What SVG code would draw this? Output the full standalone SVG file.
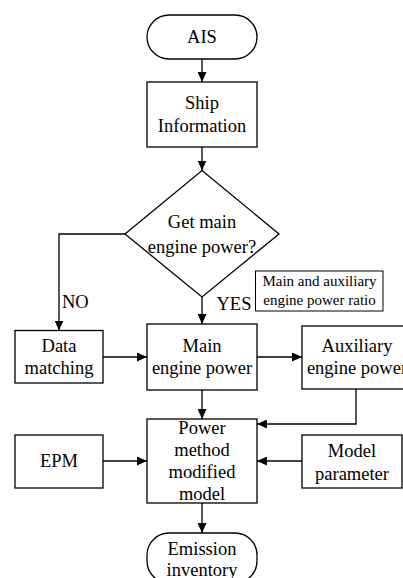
<svg xmlns="http://www.w3.org/2000/svg" width="403" height="578" viewBox="0 0 403 578">
<style>
.s{fill:#fff;stroke:#000;stroke-width:1.3}
text{font-family:'Liberation Serif','Times New Roman',Tinos,Times,'DejaVu Serif',serif;fill:#000;text-anchor:middle}
.t{font-size:18.5px}
.sm{font-size:15px}
.c{fill:none;stroke:#000;stroke-width:1.3;marker-end:url(#ah)}
</style>
<defs>
<marker id="ah" markerUnits="userSpaceOnUse" markerWidth="10" markerHeight="9" refX="10" refY="4.5" orient="auto">
<path d="M0,0 L10,4.5 L0,9 z" fill="#000"/>
</marker>
</defs>
<rect width="403" height="578" fill="#fff"/>
<g id="connectors">
<path class="c" d="M202,59 V82"/>
<path class="c" d="M202,147 V170.5"/>
<path class="c" d="M125,234 H59 V330.5"/>
<path class="c" d="M202,297 V324"/>
<path class="c" d="M103,357 H147"/>
<path class="c" d="M257,357 H302"/>
<path class="c" d="M202,390 V419"/>
<path class="c" d="M356,389 V424 H257"/>
<path class="c" d="M103,461 H147"/>
<path class="c" d="M302,461 H257"/>
<path class="c" d="M202,503 V533"/>
</g>
<g font-family="Liberation Serif, Times New Roman, serif">
<g id="ais">
<rect class="s" x="147" y="15" width="110" height="44" rx="22"/>
<text class="t" x="202" y="43">AIS</text>
</g>
<g id="ship-information">
<rect class="s" x="147" y="82" width="110" height="65"/>
<text class="t" x="202" y="109">Ship</text>
<text class="t" x="202" y="132">Information</text>
</g>
<g id="decision">
<path class="s" d="M202,170.5 L279,234 L202,297 L125,234 Z"/>
<text class="t" x="202" y="228">Get main</text>
<text class="t" x="202" y="252.5">engine power?</text>
</g>
<g id="label-no"><text class="t" x="62" y="308" style="text-anchor:start">NO</text></g>
<g id="label-yes"><text class="t" x="216.5" y="310" style="text-anchor:start">YES</text></g>
<g id="ratio">
<rect x="255.5" y="271" width="127.5" height="40" fill="#fff" stroke="#000" stroke-width="1"/>
<text class="sm" x="319.5" y="286">Main and auxiliary</text>
<text class="sm" x="319.5" y="305">engine power ratio</text>
</g>
<g id="data-matching">
<rect class="s" x="15" y="330.5" width="88" height="52.5"/>
<text class="t" x="59" y="352">Data</text>
<text class="t" x="59" y="373.5">matching</text>
</g>
<g id="main-engine-power">
<rect class="s" x="147" y="324" width="110" height="66"/>
<text class="t" x="202" y="352">Main</text>
<text class="t" x="202" y="374">engine power</text>
</g>
<g id="aux-engine-power">
<rect class="s" x="302" y="326" width="110" height="63"/>
<text class="t" x="357" y="352">Auxiliary</text>
<text class="t" x="357" y="374">engine power</text>
</g>
<g id="power-method">
<rect class="s" x="147" y="419" width="110" height="84"/>
<text class="t" x="202" y="433.5">Power</text>
<text class="t" x="202" y="455.5">method</text>
<text class="t" x="202" y="478">modified</text>
<text class="t" x="202" y="500">model</text>
</g>
<g id="epm">
<rect class="s" x="15" y="435" width="88" height="53"/>
<text class="t" x="59" y="467">EPM</text>
</g>
<g id="model-parameter">
<rect class="s" x="302" y="435" width="100" height="53"/>
<text class="t" x="352" y="457">Model</text>
<text class="t" x="352" y="480">parameter</text>
</g>
<g id="emission-inventory">
<rect class="s" x="147" y="533" width="110" height="50" rx="22"/>
<text class="t" x="202" y="555">Emission</text>
<text class="t" x="202" y="575.5">inventory</text>
</g>
</g>
</svg>
